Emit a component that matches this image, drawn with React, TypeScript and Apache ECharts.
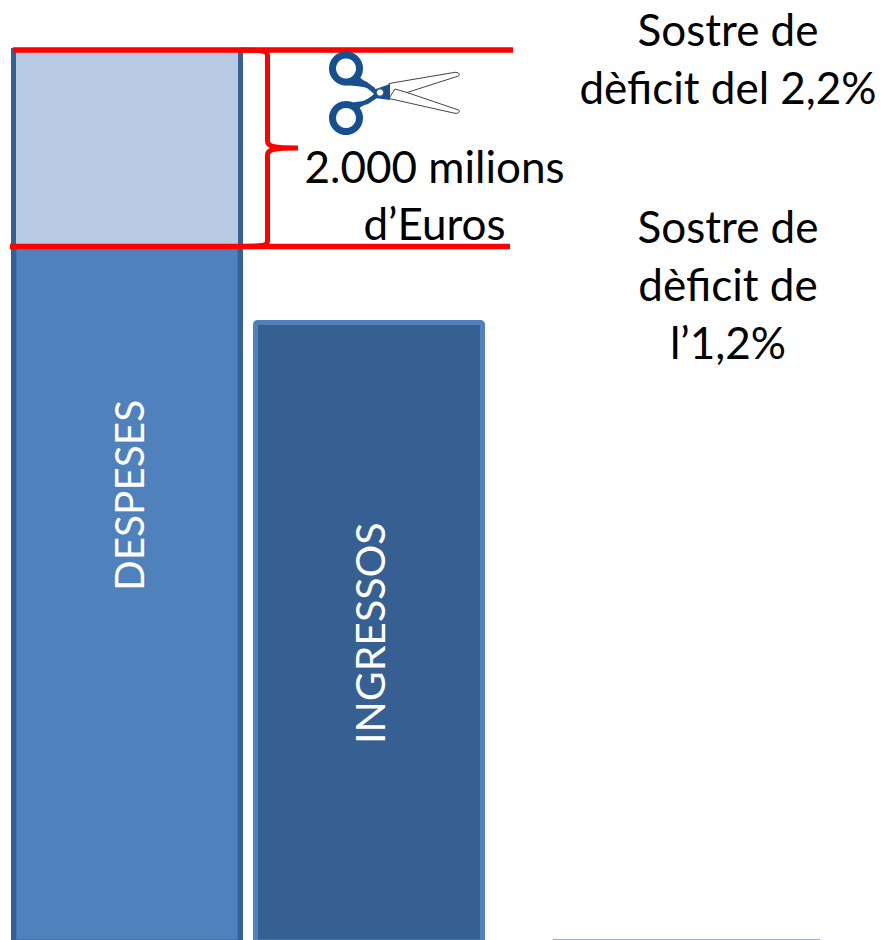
import React, { useEffect, useRef } from "react";
import * as echarts from "echarts";

const categories = ["DESPESES", "INGRESSOS"];
const outlineValues = [9125, 6356];
const baseValues = [7104, null];
const cutValues = [2000, null];
const ceilingLabels = [
  ["Sostre de", "dèficit del 2,2%"],
  ["Sostre de", "dèficit de", "l’1,2%"],
];
const cutLabel = ["2.000 milions", "d’Euros"];
const FONT = "Lato, Carlito, sans-serif";
const RED = "#ff0000";
const DARK = "#376092";
const MID = "#4f81bd";
const LIGHT = "#b7cae2";
const STEEL = "#17508f";

const braceD =
  "M240 0 C255 0 267.5 0 267.5 5 L267.5 91 C267.5 97 275 98 298 98 C275 98 267.5 99 267.5 105 L267.5 191.5 C267.5 196.5 255 196.5 240 196.5";
const handleTopD =
  "M358 75 C361 79 363 80 367 82 L375 88 L377 96 L373 93 C369 89 366 87 363 87 C356 86 349 85 343 85 L352 81 Z";
const handleBottomD =
  "M358 110 C361 106 364 105 368 104 L377 98 L377 90 L373 95 C369 98 366 100 363 101 C356 102 349 103 343 103 L352 106 Z";
const bladeTopD =
  "M389 83.5 L455 72.3 C459 72 460.5 75 458.5 76 L407 92.5 L389 98.5 Z";
const bladeBottomD =
  "M389 98.5 L455 113.3 C459 114 460.5 111 458.5 110 L407 92.5 L395 89 Z";
const pivotD = "M373 90 L390 84 L390 100 L375 98 Z";

echarts.graphic.registerShape("brace", echarts.graphic.extendPath(braceD, {}));
echarts.graphic.registerShape("handleTop", echarts.graphic.extendPath(handleTopD, {}));
echarts.graphic.registerShape("handleBottom", echarts.graphic.extendPath(handleBottomD, {}));
echarts.graphic.registerShape("bladeTop", echarts.graphic.extendPath(bladeTopD, {}));
echarts.graphic.registerShape("bladeBottom", echarts.graphic.extendPath(bladeBottomD, {}));
echarts.graphic.registerShape("pivot", echarts.graphic.extendPath(pivotD, {}));

const textBlock = (lines: string[], cx: number, top: number, step: number) =>
  lines.map((t, i) => ({
    type: "text",
    z: 20,
    x: cx,
    y: top + i * step,
    style: {
      text: t,
      fill: "#000",
      font: `44px ${FONT}`,
      textAlign: "center",
      textVerticalAlign: "middle",
    },
  }));

const barLabel = (name: string, offset: number[], fontSize: number) => ({
  show: true,
  position: "inside",
  rotate: 90,
  offset,
  formatter: name,
  color: "#fff",
  fontFamily: FONT,
  fontSize,
});

export default function App() {
  const ref = useRef<HTMLDivElement>(null);
  useEffect(() => {
    const chart = echarts.init(ref.current!, undefined, { renderer: "svg" });
    chart.setOption({
      animation: false,
      backgroundColor: "#fff",
      grid: { left: 6, top: 0, width: 484, height: 944.5 },
      xAxis: [
        { type: "category", data: categories, show: false },
        { type: "category", data: categories, show: false },
      ],
      yAxis: { type: "value", min: 0, max: 9613, show: false },
      series: [
        {
          type: "bar",
          xAxisIndex: 0,
          barWidth: 232,
          silent: true,
          data: [
            { value: outlineValues[0], itemStyle: { color: DARK } },
            {
              value: outlineValues[1],
              itemStyle: { color: DARK, borderColor: MID, borderWidth: 5, borderRadius: 2 },
              label: barLabel(categories[1], [-1, 0], 41),
            },
          ],
        },
        {
          type: "bar",
          xAxisIndex: 1,
          stack: "total",
          barWidth: 222,
          silent: true,
          data: [
            {
              value: baseValues[0],
              itemStyle: { color: MID, borderColor: "#4675ad", borderWidth: 1 },
              label: barLabel(categories[0], [100, 1], 40.5),
            },
            baseValues[1],
          ],
        },
        {
          type: "bar",
          xAxisIndex: 1,
          stack: "total",
          barWidth: 222,
          silent: true,
          data: cutValues,
          itemStyle: { color: LIGHT },
        },
      ],
    });
    const yTop = chart.convertToPixel({ yAxisIndex: 0 }, (baseValues[0] as number) + (cutValues[0] as number)) as number;
    const yBase = chart.convertToPixel({ yAxisIndex: 0 }, baseValues[0] as number) as number;
    chart.setOption({
      graphic: {
        elements: [
          { type: "line", z: 10, shape: { x1: 13, y1: yTop, x2: 513, y2: yTop }, style: { stroke: RED, lineWidth: 5.5 } },
          { type: "line", z: 10, shape: { x1: 10, y1: yBase, x2: 510, y2: yBase }, style: { stroke: RED, lineWidth: 5.5 } },
          { type: "brace", z: 11, x: 0, y: yTop, style: { fill: null, stroke: RED, lineWidth: 5, lineCap: "round" } },
          { type: "bladeTop", z: 12, style: { fill: "#fff", stroke: "#444", lineWidth: 1 } },
          { type: "bladeBottom", z: 12, style: { fill: "#fff", stroke: "#444", lineWidth: 1 } },
          { type: "handleTop", z: 13, style: { fill: STEEL } },
          { type: "handleBottom", z: 13, style: { fill: STEEL } },
          { type: "ring", z: 13, shape: { cx: 346, cy: 68.5, r: 17, r0: 10 }, style: { fill: STEEL } },
          { type: "ring", z: 13, shape: { cx: 346, cy: 118, r: 17, r0: 10 }, style: { fill: STEEL } },
          { type: "pivot", z: 13, style: { fill: STEEL } },
          { type: "circle", z: 14, shape: { cx: 380, cy: 92.5, r: 3.6 }, style: { fill: "#fff", stroke: "#555", lineWidth: 1 } },
          { type: "rect", z: 10, shape: { x: 553, y: 939, width: 267, height: 1 }, style: { fill: "#9aaec8" } },
          { type: "rect", z: 10, shape: { x: 16, y: 939, width: 222, height: 1 }, style: { fill: "#4675ad" } },
          ...textBlock(ceilingLabels[0], 728, 28.5, 58),
          ...textBlock(ceilingLabels[1], 728, 226, 58),
          ...textBlock(cutLabel, 434.5, 166, 57),
        ],
      },
    });
    return () => chart.dispose();
  }, []);
  return (
    <div style={{ position: "absolute", left: 0, top: 0, width: 883, height: 940, overflow: "hidden" }}>
      <div ref={ref} style={{ width: 883, height: 945 }} />
    </div>
  );
}
